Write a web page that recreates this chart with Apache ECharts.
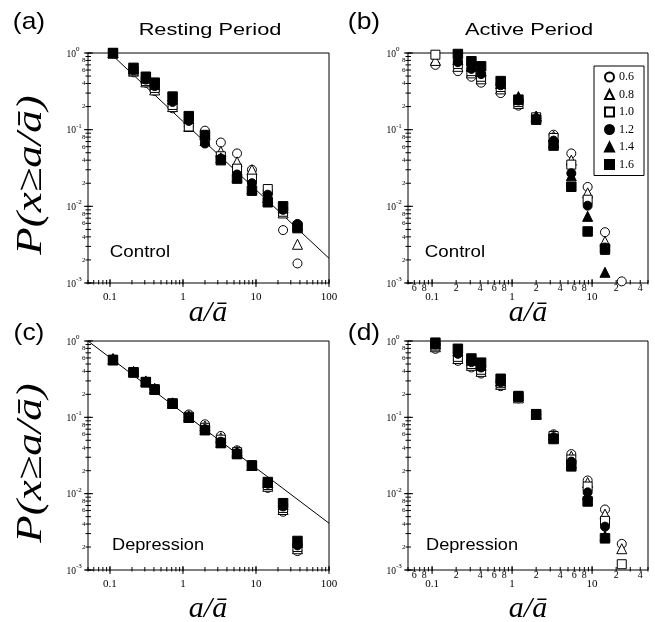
<!DOCTYPE html>
<html><head><meta charset="utf-8">
<script src="https://cdn.jsdelivr.net/npm/echarts@6/dist/echarts.min.js"></script>
<style>html,body{margin:0;padding:0;background:#fff}#c{width:655px;height:622px}</style>
</head><body><div id="c"></div>
<script>
// ---- data ----
const xBins = [0.11, 0.21, 0.31, 0.41, 0.72, 1.2, 2.0, 3.3, 5.5, 8.8, 14.5, 23.5, 37];
const thresholds = ['0.6', '0.8', '1.0', '1.2', '1.4', '1.6'];

// (a) Resting period, Control
const restCtrl06 = [1.0, 0.56, 0.41, 0.32, 0.19, 0.11, 0.097, 0.068, 0.049, 0.030, 0.016, 0.0049, 0.0018];
const restCtrl08 = [1.0, 0.58, 0.42, 0.33, 0.20, 0.11, 0.085, 0.052, 0.038, 0.030, 0.0168, 0.0082, 0.0032];
const restCtrl10 = [1.0, 0.59, 0.43, 0.35, 0.21, 0.11, 0.080, 0.045, 0.031, 0.023, 0.0168, 0.0085, 0.0055];
const restCtrl12 = [1.0, 0.60, 0.45, 0.37, 0.23, 0.13, 0.066, 0.042, 0.026, 0.020, 0.0142, 0.0090, 0.0059];
const restCtrl14 = [1.0, 0.62, 0.47, 0.39, 0.25, 0.14, 0.072, 0.043, 0.024, 0.017, 0.013, 0.0095, 0.0057];
const restCtrl16 = [1.0, 0.64, 0.49, 0.41, 0.27, 0.15, 0.085, 0.040, 0.023, 0.016, 0.0113, 0.0100, 0.0052];

// (b) Active period, Control
const actCtrl06 = [0.70, 0.58, 0.49, 0.41, 0.30, 0.206, 0.14, 0.086, 0.049, 0.0179, 0.0046, 0.00105, null];
const actCtrl08 = [0.80, 0.67, 0.55, 0.46, 0.34, 0.22, 0.15, 0.082, 0.040, 0.015, 0.0035, null, null];
const actCtrl10 = [0.95, 0.72, 0.58, 0.49, 0.36, 0.23, 0.145, 0.078, 0.035, 0.0122, 0.0027, null, null];
const actCtrl12 = [null, 0.76, 0.62, 0.53, 0.38, 0.24, 0.14, 0.072, 0.027, 0.0102, 0.0029, null, null];
const actCtrl14 = [null, 0.82, 0.67, 0.58, 0.40, 0.27, 0.15, 0.068, 0.025, 0.0074, 0.00138, null, null];
const actCtrl16 = [null, 0.97, 0.78, 0.67, 0.43, 0.246, 0.135, 0.062, 0.018, 0.0047, 0.0028, null, null];

// (c) Resting period, Depression
const restDep06 = [0.57, 0.39, 0.29, 0.234, 0.152, 0.109, 0.081, 0.057, 0.037, 0.0234, 0.0119, 0.0058, 0.00177];
const restDep08 = [0.57, 0.39, 0.29, 0.234, 0.152, 0.105, 0.077, 0.054, 0.036, 0.0234, 0.0125, 0.0062, 0.0019];
const restDep10 = [0.57, 0.39, 0.29, 0.234, 0.150, 0.102, 0.073, 0.051, 0.035, 0.0234, 0.013, 0.0065, 0.0020];
const restDep12 = [0.57, 0.39, 0.29, 0.234, 0.150, 0.100, 0.070, 0.048, 0.034, 0.0234, 0.0135, 0.0068, 0.0021];
const restDep14 = [0.59, 0.40, 0.30, 0.24, 0.155, 0.100, 0.069, 0.047, 0.034, 0.0234, 0.014, 0.0072, 0.0023];
const restDep16 = [0.56, 0.39, 0.29, 0.23, 0.152, 0.099, 0.068, 0.046, 0.033, 0.0234, 0.0142, 0.0075, 0.0024];

// (d) Active period, Depression
const actDep06 = [0.79, 0.55, 0.45, 0.375, 0.256, 0.177, 0.11, 0.060, 0.033, 0.0149, 0.0062, 0.0022, null];
const actDep08 = [0.84, 0.59, 0.48, 0.40, 0.27, 0.18, 0.11, 0.058, 0.031, 0.014, 0.0054, 0.0019, null];
const actDep10 = [0.87, 0.62, 0.50, 0.42, 0.28, 0.185, 0.11, 0.057, 0.028, 0.0124, 0.0044, 0.00119, null];
const actDep12 = [0.90, 0.68, 0.53, 0.45, 0.29, 0.19, 0.11, 0.055, 0.0263, 0.0104, 0.0037, null, null];
const actDep14 = [0.92, 0.74, 0.56, 0.48, 0.30, 0.19, 0.11, 0.054, 0.025, 0.0097, 0.0028, null, null];
const actDep16 = [0.95, 0.79, 0.59, 0.52, 0.32, 0.19, 0.11, 0.052, 0.0228, 0.0079, 0.0026, null, null];

// power-law fit lines (end points)
const fitRestCtrl = [[0.1, 1.0], [100, 0.0021]];
const fitRestDep = [[0.05, 1.0], [100, 0.0041]];

// axis ticks / labels
const yMajorTicks = [1, 0.1, 0.01, 0.001];
const yMajorExp = ['0', '-1', '-2', '-3'];
const yMinorLabelDigits = [2, 4, 6, 8];
const xMajorRest = [0.1, 1, 10, 100];
const xMajorRestLabels = ['0.1', '1', '10', '100'];
const xMajorAct = [0.1, 1, 10];
const xMajorActLabels = ['0.1', '1', '10'];
const xMinorActLabelVals = [0.06, 0.08, 0.2, 0.4, 0.6, 0.8, 2, 4, 6, 8, 20, 40];
const xMinorActLabels = ['6', '8', '2', '4', '6', '8', '2', '4', '6', '8', '2', '4'];

// ---- layout ----
const Y_MIN = 0.001, Y_MAX = 1;
const panels = [
  {grid: {left: 88, top: 53, width: 241, height: 230}, xMin: 0.05, xMax: 100, kind: 'rest',
   data: [restCtrl06, restCtrl08, restCtrl10, restCtrl12, restCtrl14, restCtrl16], fit: fitRestCtrl},
  {grid: {left: 408, top: 53, width: 240, height: 230}, xMin: 0.05, xMax: 50, kind: 'act',
   data: [actCtrl06, actCtrl08, actCtrl10, actCtrl12, actCtrl14, actCtrl16], fit: null},
  {grid: {left: 88, top: 341, width: 241, height: 229}, xMin: 0.05, xMax: 100, kind: 'rest',
   data: [restDep06, restDep08, restDep10, restDep12, restDep14, restDep16], fit: fitRestDep},
  {grid: {left: 408, top: 341, width: 240, height: 229}, xMin: 0.05, xMax: 50, kind: 'act',
   data: [actDep06, actDep08, actDep10, actDep12, actDep14, actDep16], fit: null}
];

const markers = [
  {symbol: 'circle', size: 9, fill: '#fff'},
  {symbol: 'triangle', size: 10, fill: '#fff'},
  {symbol: 'rect', size: 9, fill: '#fff'},
  {symbol: 'circle', size: 9, fill: '#000'},
  {symbol: 'triangle', size: 10, fill: '#000'},
  {symbol: 'rect', size: 9.5, fill: '#000'}
];

function minorTickValues(lo, hi) {
  const out = [];
  for (let d = -4; d <= 3; d++) {
    for (let m = 1; m <= 9; m++) {
      const v = m * Math.pow(10, d);
      if (v >= lo * 0.999 && v <= hi * 1.001) out.push(v);
    }
  }
  return out;
}

const SERIF = '"Liberation Serif", "Times New Roman", serif';

function makeDecor(p) {
  return function (params, api) {
    const ch = [];
    const bl = api.coord([p.xMin, Y_MIN]);
    const x0 = bl[0], yb = bl[1];
    const ln = (a, b, c, d) => ({type: 'line', shape: {x1: a, y1: b, x2: c, y2: d}, style: {stroke: '#000', lineWidth: 1}});
    const tx = (t, x, y, size, align, va) => ({type: 'text', x: x, y: y,
      style: {text: t, font: size + 'px ' + SERIF, fill: '#000', align: align, verticalAlign: va}});
    // x ticks
    minorTickValues(p.xMin, p.xMax).forEach(v => {
      const px = api.coord([v, Y_MIN])[0];
      ch.push(ln(px, yb - 3, px, yb + 1.5));
    });
    const xMaj = p.kind === 'rest' ? xMajorRest : xMajorAct;
    const xMajL = p.kind === 'rest' ? xMajorRestLabels : xMajorActLabels;
    xMaj.forEach((v, i) => {
      const px = api.coord([v, Y_MIN])[0];
      ch.push(ln(px, yb - 4, px, yb + 4));
      ch.push(tx(xMajL[i], px, yb + 14, 11, 'center', 'middle'));
    });
    if (p.kind === 'act') {
      xMinorActLabelVals.forEach((v, i) => {
        const px = api.coord([v, Y_MIN])[0];
        ch.push(tx(xMinorActLabels[i], px, yb + 5.5, 10, 'center', 'middle'));
      });
    }
    // y ticks
    minorTickValues(Y_MIN, Y_MAX).forEach(v => {
      const py = api.coord([p.xMin, v])[1];
      ch.push(ln(x0 - 2.5, py, x0 + 3, py));
    });
    yMajorTicks.forEach((v, i) => {
      const py = api.coord([p.xMin, v])[1];
      ch.push(ln(x0 - 4, py, x0 + 5, py));
      ch.push(tx('10', x0 - 12, py + 1, 9.5, 'right', 'middle'));
      ch.push(tx(yMajorExp[i], x0 - 12, py - 4, 7, 'left', 'middle'));
    });
    for (let d = -3; d <= -1; d++) {
      yMinorLabelDigits.forEach(m => {
        const py = api.coord([p.xMin, m * Math.pow(10, d)])[1];
        ch.push(tx(String(m), x0 - 2.5, py, 7, 'right', 'middle'));
      });
    }
    return {type: 'group', children: ch};
  };
}

const grids = [], xAxes = [], yAxes = [], series = [];
panels.forEach((p, i) => {
  grids.push(Object.assign({show: true, borderColor: '#000', borderWidth: 1, backgroundColor: 'transparent', containLabel: false}, p.grid));
  const hidden = {axisLine: {show: false}, axisTick: {show: false}, axisLabel: {show: false},
    splitLine: {show: false}, minorTick: {show: false}, minorSplitLine: {show: false}};
  xAxes.push(Object.assign({type: 'log', logBase: 10, gridIndex: i, min: p.xMin, max: p.xMax}, hidden));
  yAxes.push(Object.assign({type: 'log', logBase: 10, gridIndex: i, min: Y_MIN, max: Y_MAX}, hidden));
  if (p.fit) {
    series.push({type: 'line', xAxisIndex: i, yAxisIndex: i, data: p.fit, showSymbol: false, symbol: 'none',
      lineStyle: {color: '#000', width: 1}, silent: true, z: 1});
  }
  p.data.forEach((vals, k) => {
    const m = markers[k];
    series.push({
      type: 'scatter', name: thresholds[k], xAxisIndex: i, yAxisIndex: i,
      symbol: m.symbol, symbolSize: m.size,
      itemStyle: {color: m.fill, borderColor: '#000', borderWidth: 1, opacity: 1},
      data: xBins.map((x, j) => vals[j] == null ? null : [x, vals[j]]).filter(d => d !== null),
      z: 2
    });
  });
  series.push({type: 'custom', xAxisIndex: i, yAxisIndex: i, data: [[1, 0.1]], renderItem: makeDecor(p),
    silent: true, clip: false, z: 3});
});

const SANS = '"Liberation Sans", Arial, sans-serif';
const sansText = (t, x, y, size, sx) => ({type: 'text', x: x, y: y, scaleX: sx, silent: true,
  style: {text: t, font: size + 'px ' + SANS, fill: '#000', align: 'center', verticalAlign: 'middle'}});
const serifItalic = (t, x, y, size, sx, rot) => ({type: 'text', x: x, y: y, scaleX: sx, rotation: rot || 0, silent: true,
  style: {text: t, font: 'italic ' + size + 'px ' + SERIF, fill: '#000', align: 'center', verticalAlign: 'middle'}});

const graphic = [
  sansText('(a)', 29, 22, 24, 1.1),
  sansText('(b)', 364, 22, 24, 1.1),
  sansText('(c)', 29, 333, 24, 1.1),
  sansText('(d)', 364, 333, 24, 1.1),
  sansText('Resting Period', 210, 31, 16, 1.36),
  sansText('Active Period', 529, 31, 16, 1.36),
  sansText('Control', 140, 252, 17, 1.1),
  sansText('Control', 455, 252, 17, 1.1),
  sansText('Depression', 158, 545, 17, 1.07),
  sansText('Depression', 472, 545, 17, 1.07),
  serifItalic('P(x≥a/ā)', 32, 175, 36, 1.25, Math.PI / 2),
  serifItalic('P(x≥a/ā)', 32, 463, 36, 1.25, Math.PI / 2),
  serifItalic('a/ā', 208, 313, 30, 1.0),
  serifItalic('a/ā', 528, 313, 30, 1.0),
  serifItalic('a/ā', 208, 609, 30, 1.0),
  serifItalic('a/ā', 528, 609, 30, 1.0)
];

const chart = echarts.init(document.getElementById('c'), null, {renderer: 'canvas'});
chart.setOption({
  animation: false,
  backgroundColor: '#fff',
  grid: grids,
  xAxis: xAxes,
  yAxis: yAxes,
  legend: {
    data: thresholds, orient: 'vertical', left: 594, top: 66,
    itemWidth: 9, itemHeight: 9, itemGap: 5.5, itemTextGap: 6,
    padding: [5, 10, 5, 10], borderColor: '#000', borderWidth: 1, backgroundColor: '#fff',
    selectedMode: false,
    textStyle: {fontFamily: SERIF, fontSize: 12, color: '#000'}
  },
  series: series,
  graphic: graphic
});
</script></body></html>
